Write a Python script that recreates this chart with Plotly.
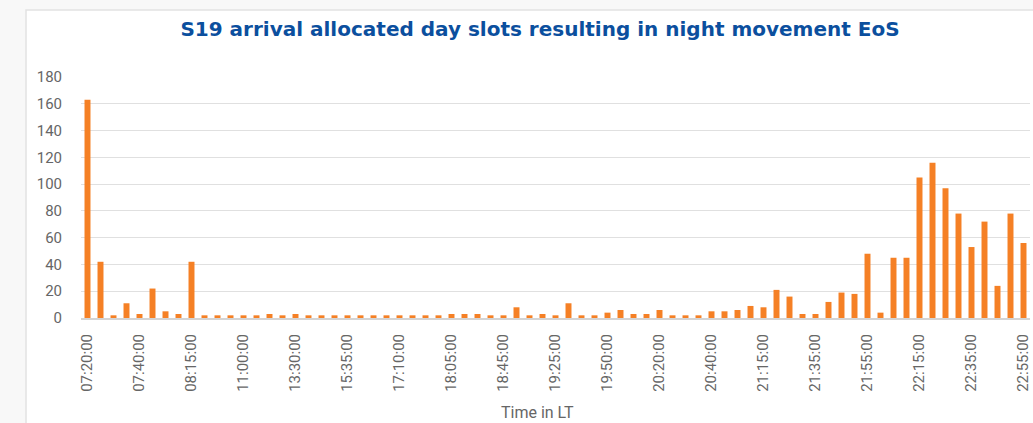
import plotly.graph_objects as go

title_text = "S19 arrival allocated day slots resulting in night movement EoS"
x_title = "Time in LT"

times = [
    "07:20:00", "07:25:00", "07:30:00", "07:35:00", "07:40:00", "07:45:00", "07:50:00", "08:00:00",
    "08:15:00", "08:45:00", "09:30:00", "10:15:00", "11:00:00", "11:35:00", "12:10:00", "12:50:00",
    "13:30:00", "14:00:00", "14:30:00", "15:00:00", "15:35:00", "16:00:00", "16:25:00", "16:45:00",
    "17:10:00", "17:25:00", "17:40:00", "17:50:00", "18:05:00", "18:15:00", "18:25:00", "18:35:00",
    "18:45:00", "18:55:00", "19:05:00", "19:15:00", "19:25:00", "19:30:00", "19:40:00", "19:45:00",
    "19:50:00", "20:00:00", "20:05:00", "20:10:00", "20:20:00", "20:25:00", "20:30:00", "20:35:00",
    "20:40:00", "20:50:00", "21:00:00", "21:05:00", "21:15:00", "21:20:00", "21:25:00", "21:30:00",
    "21:35:00", "21:40:00", "21:45:00", "21:50:00", "21:55:00", "22:00:00", "22:05:00", "22:10:00",
    "22:15:00", "22:20:00", "22:25:00", "22:30:00", "22:35:00", "22:40:00", "22:45:00", "22:50:00",
    "22:55:00",
]

counts = [
    163, 42, 2, 11, 3, 22, 5, 3, 42, 2,
    2, 2, 2, 2, 3, 2, 3, 2, 2, 2,
    2, 2, 2, 2, 2, 2, 2, 2, 3, 3,
    3, 2, 2, 8, 2, 3, 2, 11, 2, 2,
    4, 6, 3, 3, 6, 2, 2, 2, 5, 5,
    6, 9, 8, 21, 16, 3, 3, 12, 19, 18,
    48, 4, 45, 45, 105, 116, 97, 78, 53, 72, 24, 78, 56,
]

tick_labels = times[::4]
y_ticks = [0, 20, 40, 60, 80, 100, 120, 140, 160, 180]

fig = go.Figure()
fig.add_trace(go.Bar(x=times, y=counts, marker=dict(color="#f58025", line=dict(width=0)),
                     hoverinfo="x+y"))

W, H = 1033, 423
L, R, T, B = 81, 3, 77, 105
pw = W - L - R
ph = H - T - B

def px_x(p):
    return (p - L) / pw

def px_y(p):
    return (H - B - p) / ph

fig.update_layout(
    width=W, height=H,
    margin=dict(l=L, r=R, t=T, b=B, pad=0, autoexpand=False),
    paper_bgcolor="#f8f8f8",
    plot_bgcolor="rgba(0,0,0,0)",
    bargap=0.54,
    showlegend=False,
    title=dict(text="<b>" + title_text + "</b>", x=540 / W, xref="container", xanchor="center",
               y=1 - 29 / H, yref="container", yanchor="middle",
               font=dict(family="DejaVu Sans, sans-serif", size=20, color="#0b4f9e")),
    font=dict(family="Roboto, sans-serif", size=15, color="#666666"),
    shapes=[dict(type="rect", xref="paper", yref="paper", layer="below",
                 x0=px_x(26), x1=px_x(1040), y0=px_y(440), y1=px_y(10),
                 line=dict(color="#e2e2e2", width=1.5), fillcolor="#ffffff")],
    annotations=[dict(text=x_title, xref="paper", yref="paper", x=px_x(537), y=px_y(412),
                      xanchor="center", yanchor="middle", showarrow=False,
                      font=dict(family="Roboto, sans-serif", size=16, color="#666666"))],
)

fig.update_xaxes(
    type="category", range=[-0.5, len(times) - 0.5], automargin=False,
    tickmode="array", tickvals=tick_labels, ticktext=tick_labels,
    tickangle=-90, showgrid=False, showline=True, linecolor="#d4d4d4", linewidth=2,
    ticks="outside", ticklen=8, tickcolor="rgba(0,0,0,0)",
    tickfont=dict(family="Roboto, sans-serif", size=15, color="#666666"),
    fixedrange=True,
)
fig.update_yaxes(
    range=[0, 180], tickmode="array", tickvals=y_ticks, automargin=False,
    showgrid=True, gridcolor="#e0e0e0", gridwidth=1, zeroline=False,
    ticks="outside", ticklen=15, tickcolor="rgba(0,0,0,0)",
    tickfont=dict(family="Roboto, sans-serif", size=15, color="#666666"),
    fixedrange=True,
)

fig.write_html("out.html", config={"displayModeBar": False},
               post_script="document.body.style.margin='0px';document.body.style.overflow='hidden';")
